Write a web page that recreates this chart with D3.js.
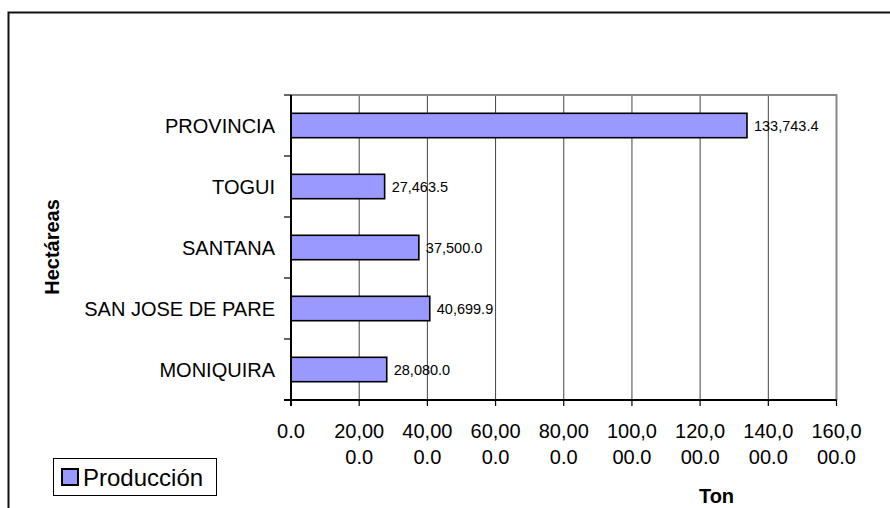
<!DOCTYPE html>
<html>
<head>
<meta charset="utf-8">
<script src="https://cdn.jsdelivr.net/npm/d3@7"></script>
<style>
  body { margin: 0; background: #fff; }
  svg { display: block; font-family: Arial, "Liberation Sans", sans-serif; }
</style>
</head>
<body>
<script>
(function all (){
  //chart data
  var municipios = ["PROVINCIA", "TOGUI", "SANTANA", "SAN JOSE DE PARE", "MONIQUIRA"];
  var produccion = [133743.4, 27463.5, 37500.0, 40699.9, 28080.0];
  var xTicks = [0, 20000, 40000, 60000, 80000, 100000, 120000, 140000, 160000];
  var serieNombre = "Producción";

  window.onload = setChart();

  function setChart(){
    var width = 890,
    height = 508;

    var svg = d3.select("body")
      .append("svg")
      .attr("width", width)
      .attr("height", height);

    //outer frame (runs past the right and bottom edges)
    svg.append("rect")
      .attr("x", 8.5)
      .attr("y", 12.5)
      .attr("width", 1000)
      .attr("height", 1000)
      .attr("fill", "none")
      .attr("stroke", "#111")
      .attr("stroke-width", 2);

    //plot area
    var left = 291, right = 836.5, top = 95, bottom = 400;

    var x = d3.scaleLinear()
      .domain([0, 160000])
      .range([left, right]);

    var y = d3.scaleBand()
      .domain(municipios)
      .range([top, bottom])
      .paddingInner(0.6)
      .paddingOuter(0.3);

    //gridlines
    svg.append("g")
      .selectAll("line")
      .data(xTicks.slice(1, -1))
      .enter()
      .append("line")
      .attr("x1", function(d){ return x(d); })
      .attr("x2", function(d){ return x(d); })
      .attr("y1", top)
      .attr("y2", bottom)
      .attr("stroke", "#444")
      .attr("stroke-width", 1);

    //plot border top and right
    svg.append("path")
      .attr("d", "M" + left + "," + top + "H" + right + "V" + bottom)
      .attr("fill", "none")
      .attr("stroke", "#888")
      .attr("stroke-width", 2);

    //bars
    svg.append("g")
      .selectAll("rect")
      .data(municipios)
      .enter()
      .append("rect")
      .attr("x", x(0))
      .attr("y", function(d){ return y(d); })
      .attr("width", function(d, i){ return x(produccion[i]) - x(0); })
      .attr("height", y.bandwidth())
      .attr("fill", "#9999FF")
      .attr("stroke", "#000")
      .attr("stroke-width", 1.6);

    //value labels
    var fmt = d3.format(",.1f");
    svg.append("g")
      .selectAll("text")
      .data(municipios)
      .enter()
      .append("text")
      .attr("x", function(d, i){ return x(produccion[i]) + 7; })
      .attr("y", function(d){ return y(d) + y.bandwidth() / 2 + 5; })
      .attr("font-size", "14.5px")
      .attr("fill", "#000")
      .text(function(d, i){ return fmt(produccion[i]); });

    //y axis: line, ticks between bands, category labels
    var bounds = municipios.map(function(d){ return y(d) - y.step() * y.paddingOuter(); });
    bounds.push(bottom);
    svg.append("g")
      .selectAll("line")
      .data(bounds)
      .enter()
      .append("line")
      .attr("x1", left - 7)
      .attr("x2", left)
      .attr("y1", function(d){ return d; })
      .attr("y2", function(d){ return d; })
      .attr("stroke", "#000")
      .attr("stroke-width", 1.2);

    svg.append("g")
      .selectAll("text")
      .data(municipios)
      .enter()
      .append("text")
      .attr("x", 275)
      .attr("y", function(d){ return y(d) + y.bandwidth() / 2 + 7; })
      .attr("text-anchor", "end")
      .attr("font-size", "20px")
      .attr("fill", "#000")
      .text(function(d){ return d; });

    svg.append("line")
      .attr("x1", left)
      .attr("x2", left)
      .attr("y1", top)
      .attr("y2", bottom + 6)
      .attr("stroke", "#000")
      .attr("stroke-width", 2);

    //x axis: line, ticks, wrapped labels
    svg.append("line")
      .attr("x1", left - 7)
      .attr("x2", right)
      .attr("y1", bottom)
      .attr("y2", bottom)
      .attr("stroke", "#000")
      .attr("stroke-width", 2);

    svg.append("g")
      .selectAll("line")
      .data(xTicks)
      .enter()
      .append("line")
      .attr("x1", function(d){ return x(d); })
      .attr("x2", function(d){ return x(d); })
      .attr("y1", bottom)
      .attr("y2", bottom + 6)
      .attr("stroke", "#000")
      .attr("stroke-width", 1.2);

    var xLabels = svg.append("g")
      .selectAll("text")
      .data(xTicks)
      .enter()
      .append("text")
      .attr("text-anchor", "middle")
      .attr("font-size", "20px")
      .attr("fill", "#000");
    //labels are wrapped after five characters like the original
    xLabels.each(function(d){
      var s = fmt(d);
      var lines = s.length > 5 ? [s.slice(0, 5), s.slice(5)] : [s];
      var t = d3.select(this);
      lines.forEach(function(l, k){
        t.append("tspan")
          .attr("x", x(d))
          .attr("y", 438 + k * 25.5)
          .text(l);
      });
    });

    //axis titles
    svg.append("text")
      .attr("x", 716.5)
      .attr("y", 503)
      .attr("text-anchor", "middle")
      .attr("font-size", "20px")
      .attr("font-weight", "bold")
      .text("Ton");

    svg.append("text")
      .attr("transform", "translate(59,247) rotate(-90)")
      .attr("text-anchor", "middle")
      .attr("font-size", "20px")
      .attr("font-weight", "bold")
      .text("Hectáreas");

    //legend
    var legend = svg.append("g");
    legend.append("rect")
      .attr("x", 53.5)
      .attr("y", 458.5)
      .attr("width", 163)
      .attr("height", 37)
      .attr("fill", "#fff")
      .attr("stroke", "#000")
      .attr("stroke-width", 1);
    legend.append("rect")
      .attr("x", 62)
      .attr("y", 469)
      .attr("width", 16)
      .attr("height", 16)
      .attr("fill", "#9999FF")
      .attr("stroke", "#000")
      .attr("stroke-width", 2);
    legend.append("text")
      .attr("x", 83)
      .attr("y", 486)
      .attr("font-size", "24px")
      .attr("fill", "#000")
      .text(serieNombre);
  };
})();
</script>
</body>
</html>
